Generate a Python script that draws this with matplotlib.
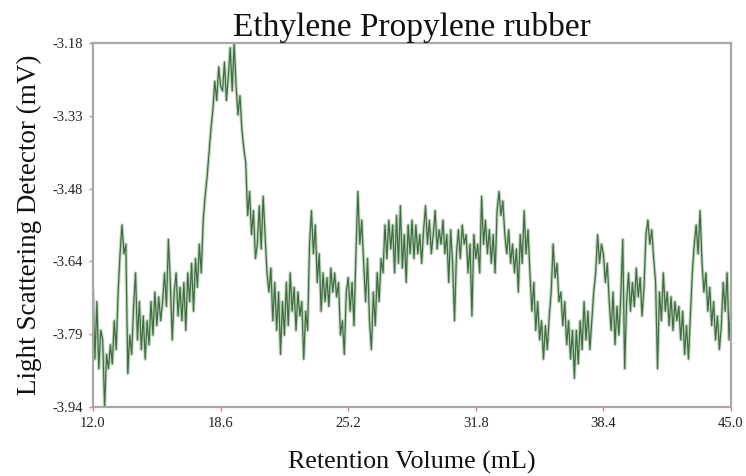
import numpy as np
import matplotlib
matplotlib.use("Agg")
import matplotlib.pyplot as plt

# Retention volume range (mL) and detector signal (mV)
x_start, x_end = 12.0, 45.0
signal = [
    -3.70, -3.84, -3.72, -3.86, -3.78, -3.80, -3.94, -3.83, -3.86, -3.81,
    -3.85, -3.76, -3.82, -3.70, -3.62, -3.56, -3.62, -3.60, -3.87, -3.79,
    -3.83, -3.73, -3.66, -3.80, -3.72, -3.82, -3.75, -3.84, -3.76, -3.81,
    -3.72, -3.79, -3.70, -3.77, -3.71, -3.76, -3.72, -3.66, -3.73, -3.59,
    -3.68, -3.80, -3.70, -3.66, -3.75, -3.69, -3.76, -3.68, -3.78, -3.66,
    -3.72, -3.64, -3.74, -3.63, -3.69, -3.60, -3.66, -3.55, -3.50, -3.46,
    -3.41, -3.36, -3.32, -3.26, -3.30, -3.23, -3.27, -3.28, -3.22, -3.30,
    -3.25, -3.19, -3.28, -3.18, -3.27, -3.33, -3.29, -3.36, -3.40, -3.43,
    -3.54, -3.49, -3.58, -3.53, -3.63, -3.60, -3.52, -3.61, -3.50, -3.58,
    -3.66, -3.70, -3.65, -3.76, -3.68, -3.78, -3.70, -3.83, -3.72, -3.79,
    -3.68, -3.77, -3.66, -3.74, -3.69, -3.78, -3.70, -3.75, -3.72, -3.84,
    -3.74, -3.78, -3.60, -3.53, -3.62, -3.56, -3.68, -3.62, -3.74, -3.66,
    -3.72, -3.67, -3.73, -3.65, -3.70, -3.66, -3.71, -3.68, -3.79, -3.76,
    -3.83, -3.70, -3.67, -3.74, -3.68, -3.77, -3.62, -3.49, -3.60, -3.55,
    -3.64, -3.72, -3.63, -3.76, -3.82, -3.70, -3.77, -3.66, -3.72, -3.63,
    -3.66, -3.56, -3.63, -3.55, -3.61, -3.56, -3.66, -3.54, -3.64, -3.52,
    -3.65, -3.58, -3.68, -3.56, -3.62, -3.55, -3.63, -3.56, -3.62, -3.58,
    -3.64, -3.57, -3.52, -3.60, -3.55, -3.62, -3.58, -3.53, -3.61, -3.57,
    -3.60, -3.55, -3.62, -3.58, -3.68, -3.57, -3.64, -3.76, -3.62, -3.57,
    -3.63, -3.56, -3.60, -3.58, -3.66, -3.60, -3.75, -3.58, -3.63, -3.60,
    -3.66, -3.50, -3.60, -3.55, -3.62, -3.57, -3.64, -3.58, -3.66, -3.53,
    -3.49, -3.54, -3.51, -3.58, -3.62, -3.57, -3.64, -3.60, -3.66, -3.61,
    -3.70, -3.58, -3.64, -3.53, -3.62, -3.57, -3.66, -3.74, -3.68, -3.78,
    -3.72, -3.80, -3.76, -3.84, -3.77, -3.82, -3.75, -3.70, -3.60, -3.67,
    -3.64, -3.72, -3.70, -3.77, -3.72, -3.81, -3.76, -3.84, -3.78, -3.88,
    -3.78, -3.85, -3.76, -3.82, -3.72, -3.80, -3.74, -3.82, -3.76, -3.70,
    -3.66, -3.58, -3.64, -3.60, -3.62, -3.68, -3.64, -3.72, -3.78, -3.70,
    -3.81, -3.73, -3.79, -3.71, -3.59, -3.86, -3.72, -3.66, -3.74, -3.68,
    -3.73, -3.65, -3.71, -3.67, -3.75, -3.69, -3.58, -3.55, -3.60, -3.57,
    -3.63, -3.68, -3.86, -3.70, -3.76, -3.66, -3.74, -3.70, -3.77, -3.71,
    -3.78, -3.72, -3.76, -3.73, -3.80, -3.74, -3.83, -3.77, -3.84, -3.75,
    -3.66, -3.60, -3.56, -3.62, -3.53, -3.64, -3.70, -3.66, -3.74, -3.69,
    -3.77, -3.72, -3.80, -3.75, -3.82, -3.77, -3.68, -3.74, -3.66, -3.80,
    -3.72,
]
x_ticks = [12.0, 18.6, 25.2, 31.8, 38.4, 45.0]
x_tick_labels = ["12.0", "18.6", "25.2", "31.8", "38.4", "45.0"]
y_ticks = [-3.18, -3.332, -3.484, -3.636, -3.788, -3.94]
y_tick_labels = ["-3.18", "-3.33", "-3.48", "-3.64", "-3.79", "-3.94"]

title = "Ethylene Propylene rubber"
xlabel = "Retention Volume (mL)"
ylabel = "Light Scattering Detector (mV)"

plt.rcParams["font.family"] = ["Liberation Serif", "DejaVu Serif"]

fig = plt.figure(figsize=(7.46, 4.76), dpi=100)
ax = fig.add_axes([93 / 746, 1 - 407 / 476, (731 - 93) / 746, (407 - 43) / 476])

y = np.asarray(signal)
x = np.linspace(x_start, x_end, len(y))
# pale halo then darker core, like the blurred original trace
ax.plot(x, y, color="#c3d5c3", lw=2.4)
ax.plot(x, y, color="#3f6f3f", lw=0.9)

ax.set_xlim(x_start, x_end)
ax.set_ylim(-3.94, -3.18)
ax.set_xticks(x_ticks)
ax.set_xticklabels(x_tick_labels)
ax.set_yticks(y_ticks)
ax.set_yticklabels(y_tick_labels)
ax.tick_params(axis="both", direction="out", length=3, width=1, color="#d88080",
               labelsize=10.5, labelcolor="#222222", pad=4)

for sp in ax.spines.values():
    sp.set_color("#a8a8a8")
    sp.set_linewidth(1.6)
    sp.set_zorder(3)

ax.set_title(title, fontsize=24, color="#111111", pad=3)
ax.set_xlabel(xlabel, fontsize=18.7, color="#111111", labelpad=15)
ax.set_ylabel(ylabel, fontsize=19.5, color="#111111", labelpad=8)

fig.savefig("out.png", dpi=100)
